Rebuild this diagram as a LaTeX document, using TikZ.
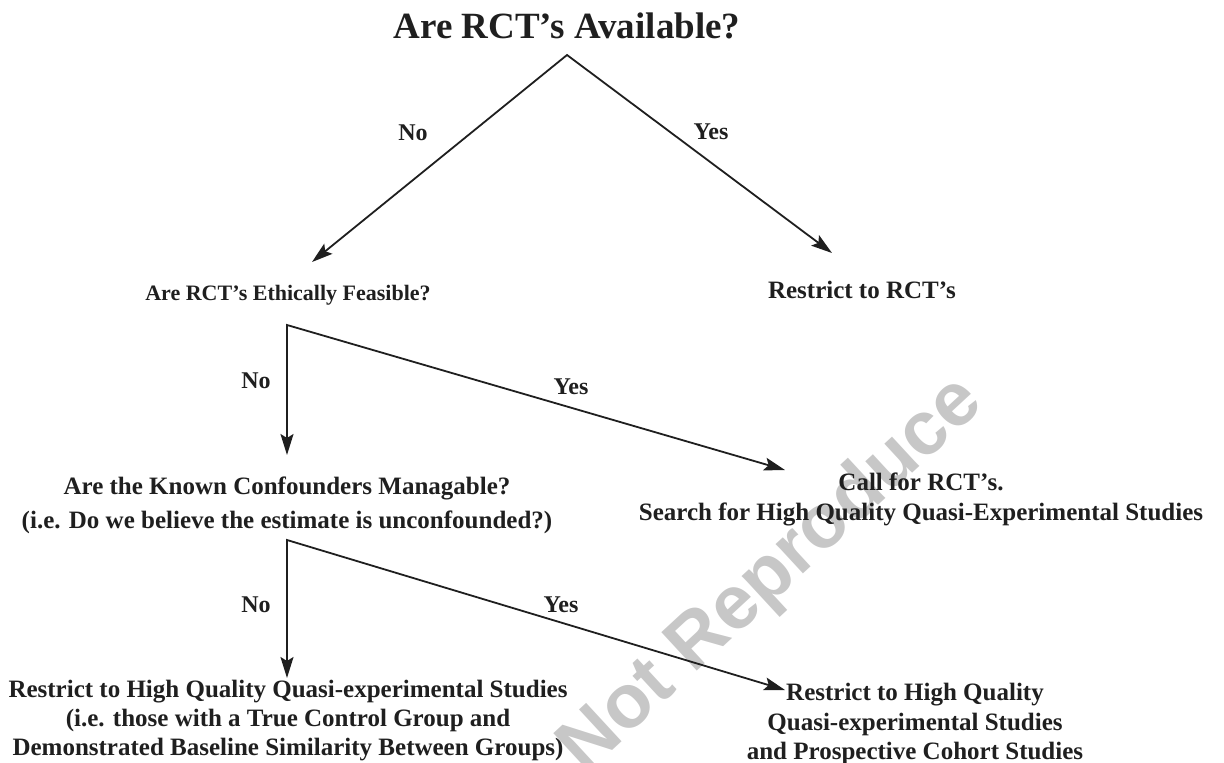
\documentclass[tikz,border=0pt]{standalone}
\usepackage{fontspec}
\setmainfont{Liberation Serif}
\newfontfamily\wmfont{Liberation Sans}
\usetikzlibrary{arrows.meta}
\begin{document}
\begin{tikzpicture}[x=1pt,y=-1pt,
  fork/.style={line width=1.8pt, draw=black!88, line join=miter,
    {Stealth[length=21pt,width=13pt,inset=4pt]}-{Stealth[length=21pt,width=13pt,inset=4pt]}},
  titletext/.style={font=\fontsize{37}{44}\selectfont\bfseries, inner sep=0pt, text=black!88},
  midtext/.style={font=\fontsize{22}{26}\selectfont\bfseries, inner sep=0pt, text=black!88},
  bodytext/.style={inner sep=0pt, align=center, text=black!88},
  yn/.style={font=\fontsize{24}{28}\selectfont\bfseries, inner sep=0pt, text=black!88},
  wm/.style={font=\wmfont\fontsize{76}{80}\selectfont\bfseries, text=black!22, rotate=42.7, inner sep=0pt}]
\useasboundingbox (0,0) rectangle (1224,763);

% faint watermark behind everything
\node[wm] (mark) at (772,576) {Not Reproduce};

% first decision
\node[titletext, anchor=base] (q1) at (567,38) {Are RCT’s Available?};
\coordinate (apex) at (567,55);
\coordinate (t1no) at (312,262);
\coordinate (t1yes) at (832,253);
\draw[fork] (t1no) -- (apex) -- (t1yes);
\node[yn] (no1) at (413,133) {No};
\node[yn] (yes1) at (711,132) {Yes};

\node[midtext, anchor=base] (q2) at (288,300) {Are RCT’s Ethically Feasible?};
\node[midtext, font=\fontsize{25}{29}\selectfont\bfseries, anchor=base] (r1) at (862,298) {Restrict to RCT’s};

% second decision
\coordinate (c2) at (287,325);
\coordinate (t2no) at (287,455);
\coordinate (t2yes) at (785,470);
\draw[fork] (t2no) -- (c2) -- (t2yes);
\node[yn] (no2) at (256,381) {No};
\node[yn] (yes2) at (571,387) {Yes};

\node[bodytext, font=\fontsize{25}{34}\selectfont\bfseries] (q3) at (287,505)
  {Are the Known Confounders Managable?\\(i.e. Do we believe the estimate is unconfounded?)};
\node[bodytext, font=\fontsize{25}{30}\selectfont\bfseries] (r2) at (921,499)
  {Call for RCT’s.\\Search for High Quality Quasi-Experimental Studies};

% third decision
\coordinate (c3) at (287,540);
\coordinate (t3no) at (287,678);
\coordinate (t3yes) at (785,690);
\draw[fork] (t3no) -- (c3) -- (t3yes);
\node[yn] (no3) at (256,605) {No};
\node[yn] (yes3) at (561,605) {Yes};

\node[bodytext, font=\fontsize{25}{29}\selectfont\bfseries] (r3a) at (288,721)
  {Restrict to High Quality Quasi-experimental Studies\\(i.e. those with a True Control Group and\\Demonstrated Baseline Similarity Between Groups)};
\node[bodytext, font=\fontsize{25}{29.5}\selectfont\bfseries] (r3b) at (915,724)
  {Restrict to High Quality\\Quasi-experimental Studies\\and Prospective Cohort Studies};
\end{tikzpicture}
\end{document}
